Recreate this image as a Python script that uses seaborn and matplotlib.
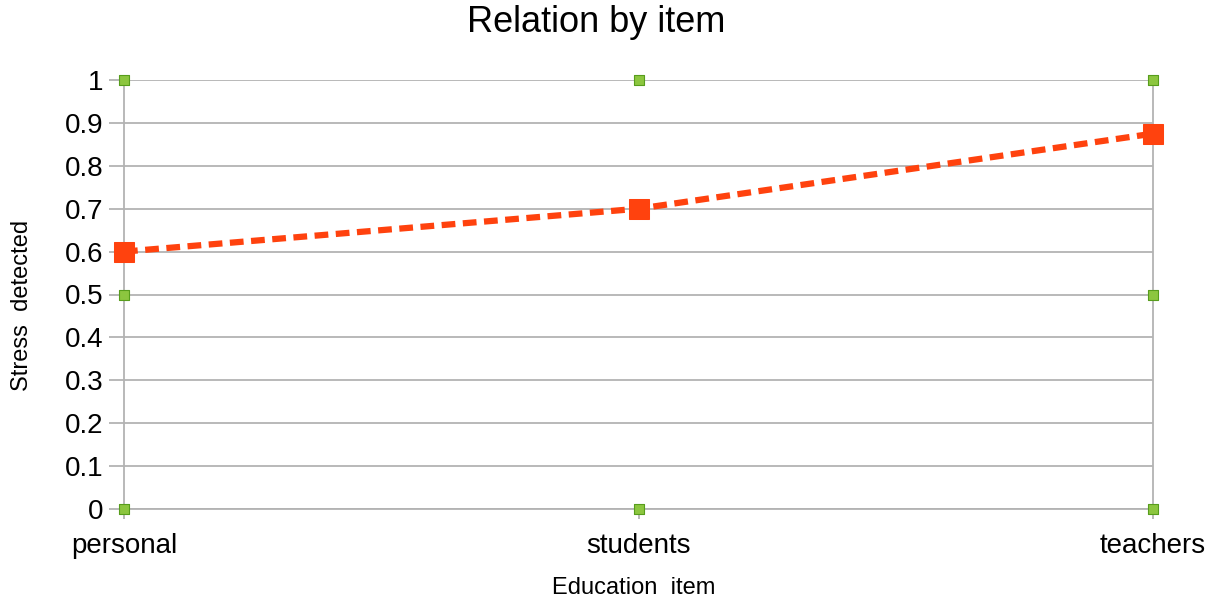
"""
Relation by item - stress detected per education item
"""

import matplotlib
matplotlib.use('Agg')
import matplotlib.pyplot as plt
import seaborn as sns
import numpy as np
import pandas as pd

# Data
items = ['personal', 'students', 'teachers']
stress = [0.6, 0.7, 0.875]
# reference markers (green squares)
ref_top = [1.0, 1.0, 1.0]
ref_mid = [0.5, np.nan, 0.5]
ref_base = [0.0, 0.0, 0.0]
y_ticks = [0, 0.1, 0.2, 0.3, 0.4, 0.5, 0.6, 0.7, 0.8, 0.9, 1]
y_tick_labels = ['0', '0.1', '0.2', '0.3', '0.4', '0.5', '0.6', '0.7', '0.8', '0.9', '1']

sns.set_style('white')
plt.rcParams['font.family'] = ['Liberation Sans', 'DejaVu Sans']

fig = plt.figure(figsize=(12.14, 6), dpi=100)
ax = fig.add_axes([124 / 1214, 1 - 509 / 600, (1153 - 124) / 1214, (509 - 80) / 600])

grid_color = '#b3b3b3'
for y in y_ticks:
    ax.axhline(y, color=grid_color, linewidth=1.3, zorder=1)

df = pd.DataFrame({'item': items, 'stress': stress})
sns.lineplot(data=df, x='item', y='stress', sort=False, ax=ax,
             color='#ff420e', linewidth=4.5, linestyle=(0, (2.2, 1.2)),
             marker='s', markersize=15, markeredgecolor='#ff420e',
             zorder=4, clip_on=False)

refs = pd.DataFrame({
    'item': items * 3,
    'value': ref_top + ref_mid + ref_base,
}).dropna()
sns.scatterplot(data=refs, x='item', y='value', ax=ax, marker='s', s=50,
                color='#8cc63f', edgecolor='#579d1c', linewidth=0.8,
                zorder=5, clip_on=False)

ax.set_xlim(0, 2)
ax.set_ylim(0, 1)
ax.set_yticks(y_ticks)
ax.set_yticklabels(y_tick_labels)
ax.set_xticks(range(len(items)))
ax.set_xticklabels(items)

for side in ['left', 'right', 'bottom']:
    ax.spines[side].set_color(grid_color)
    ax.spines[side].set_linewidth(1.3)
ax.spines['top'].set_visible(False)

ax.tick_params(axis='both', which='major', labelsize=20, labelcolor='black',
               width=1.3, color=grid_color, bottom=True, left=True)
ax.tick_params(axis='y', length=11, pad=4)
ax.tick_params(axis='x', length=7, pad=10)

fig.text(596 / 1214, 1 - 22 / 600, 'Relation by item', fontsize=26,
         color='black', ha='center', va='center')
ax.set_xlabel('')
ax.set_ylabel('')
fig.text(634 / 1214, 1 - 588 / 600, 'Education  item', fontsize=17,
         color='black', ha='center', va='center')
fig.text(22 / 1214, 1 - 305 / 600, 'Stress  detected', fontsize=17,
         color='black', ha='center', va='center', rotation=90)

plt.savefig('out.png', dpi=100)
